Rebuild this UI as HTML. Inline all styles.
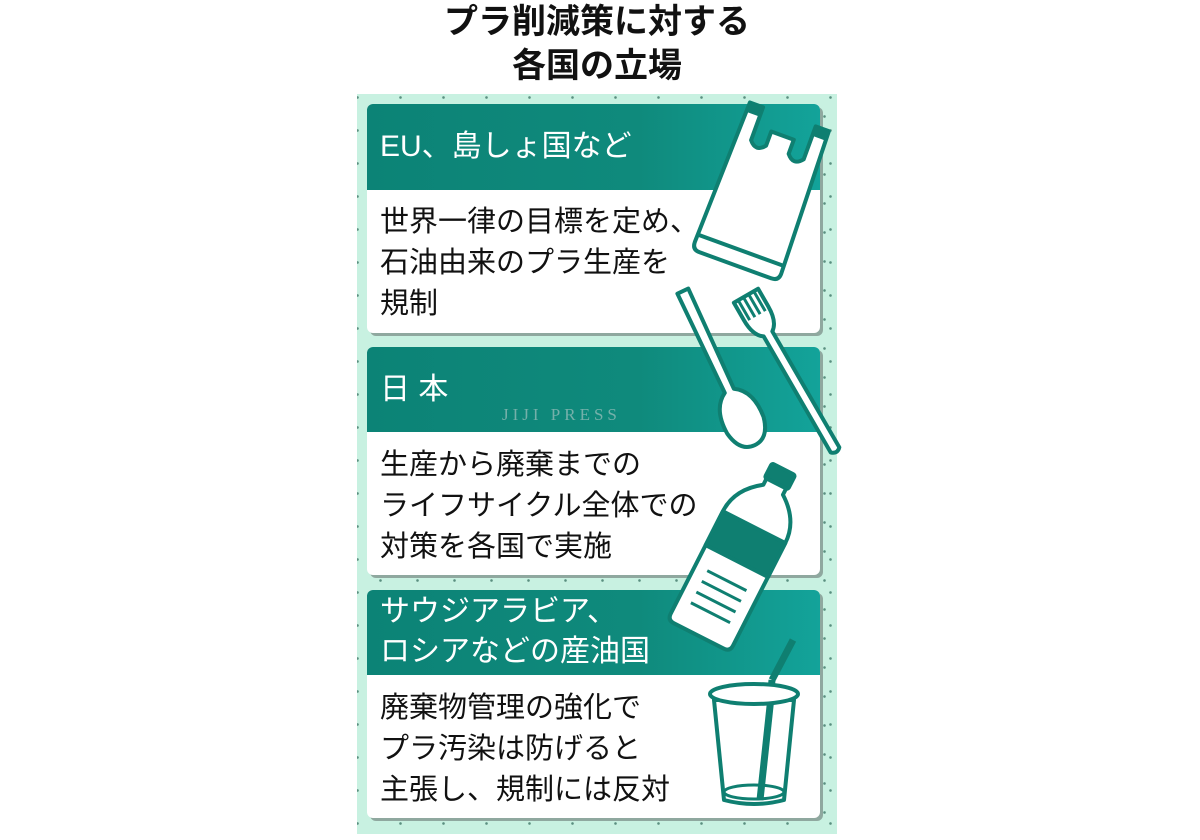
<!DOCTYPE html>
<html><head><meta charset="utf-8">
<style>
html,body{margin:0;padding:0;background:#fff;}
body{width:1200px;height:840px;position:relative;overflow:hidden;font-family:"Liberation Sans","Noto Sans CJK JP",sans-serif;}
.title{position:absolute;left:357px;width:480px;top:0;text-align:center;font-size:34px;font-weight:bold;line-height:44px;color:#111;}
.panel{position:absolute;left:357px;top:94px;width:480px;height:740px;background-color:#c8f1e1;
background-image:radial-gradient(circle,#5a8f80 1px,transparent 1.6px),radial-gradient(circle,#5a8f80 1px,transparent 1.6px);
background-size:37px 29px,43px 33px;background-position:5px 8px,22px 20px;}
.card{position:absolute;left:367px;width:453px;background:#fff;border-radius:6px;box-shadow:3px 3px 0 #8fa89f;overflow:hidden;}
.hd{background:linear-gradient(90deg,#0c8376 0%,#0f8a7c 60%,#13a39a 100%);color:#fff;font-size:30px;padding-left:13px;box-sizing:border-box;}
.bd{font-size:29px;color:#111;padding-left:13px;line-height:41px;}
</style></head><body>
<div class="title">プラ削減策に対する<br>各国の立場</div>
<div class="panel"></div>

<div class="card" style="top:104px;height:229px;">
 <div class="hd" style="height:86px;line-height:86px;">EU、島しょ国など</div>
 <div class="bd" style="padding-top:12px;">世界一律の目標を定め、<br>石油由来のプラ生産を<br>規制</div>
</div>
<div class="card" style="top:347px;height:228px;">
 <div class="hd" style="height:85px;line-height:85px;">日 本</div>
 <div class="bd" style="padding-top:13px;">生産から廃棄までの<br>ライフサイクル全体での<br>対策を各国で実施</div>
</div>
<div class="card" style="top:590px;height:228px;">
 <div class="hd" style="height:85px;line-height:40px;padding-top:2px;">サウジアラビア、<br>ロシアなどの産油国</div>
 <div class="bd" style="padding-top:13px;">廃棄物管理の強化で<br>プラ汚染は防げると<br>主張し、規制には反対</div>
</div>
<div style="position:absolute;left:502px;top:405px;font-family:'Liberation Serif',serif;font-size:17px;letter-spacing:4px;color:rgba(200,210,210,0.55);">JIJI PRESS</div>

<svg width="1200" height="840" style="position:absolute;left:0;top:0" fill="#fff" stroke="#0f7f71" stroke-width="4" stroke-linejoin="round">
 <!-- bag -->
 <g transform="translate(762,192) rotate(20)">
  <path d="M-42,-80 L-28,-80 L-28,-45 Q-20,-35 -12,-45 L-12,-60 L12,-60 L12,-45 Q20,-35 28,-45 L28,-80 L42,-80 L46,70 Q46,78 38,78 L-38,78 Q-46,78 -46,70 Z"/>
  <line x1="-46" y1="62" x2="46" y2="62"/>
  <rect x="-42" y="-80" width="14" height="10" fill="#0f7f71" stroke="none"/>
  <rect x="28" y="-80" width="14" height="10" fill="#0f7f71" stroke="none"/>
 </g>
 <!-- spoon -->
 <g transform="translate(742,418) rotate(-25)">
  <path d="M-5,-30 L-6,-140 L6,-140 L5,-30 Q22,-20 20,8 Q16,30 0,30 Q-16,30 -20,8 Q-22,-20 -5,-30 Z"/>
 </g>
 <!-- fork -->
 <g transform="translate(760,320) rotate(-30)">
  <path d="M-14,-28 L-14,-8 Q-14,10 -5,16 L-5,150 Q0,155 5,150 L5,16 Q14,10 14,-8 L14,-28 Z"/>
  <path d="M-9,-28 L-9,-5 M-3,-28 L-3,-5 M3,-28 L3,-5 M9,-28 L9,-5" stroke-width="3"/>
 </g>
 <!-- bottle -->
 <g transform="translate(745,545) rotate(27)">
  <rect x="-13" y="-85" width="26" height="16" rx="2" fill="#0f7f71"/>
  <path d="M-11,-69 L11,-69 L11,-62 Q35,-45 35,-20 L35,95 Q35,102 28,102 L-28,102 Q-35,102 -35,95 L-35,-20 Q-35,-45 -11,-62 Z"/>
  <rect x="-35" y="-20" width="70" height="38" fill="#0f7f71"/>
  <path d="M-22,40 L22,40 M-22,52 L22,52 M-22,64 L22,64 M-22,76 L22,76" stroke-width="3"/>
 </g>
 <!-- cup -->
 <line x1="760" y1="805" x2="772" y2="680" stroke-width="7"/>
 <line x1="772" y1="680" x2="793" y2="640" stroke-width="7"/>
 <path d="M714,700 L794,700 L784,800 Q754,808 724,800 Z"/>
 <line x1="760" y1="800" x2="771" y2="697" stroke-width="7"/>
 <ellipse cx="754" cy="694" rx="44" ry="10"/>
 <ellipse cx="754" cy="792" rx="30" ry="7" fill="none" stroke-width="3"/>
</svg>
</body></html>
